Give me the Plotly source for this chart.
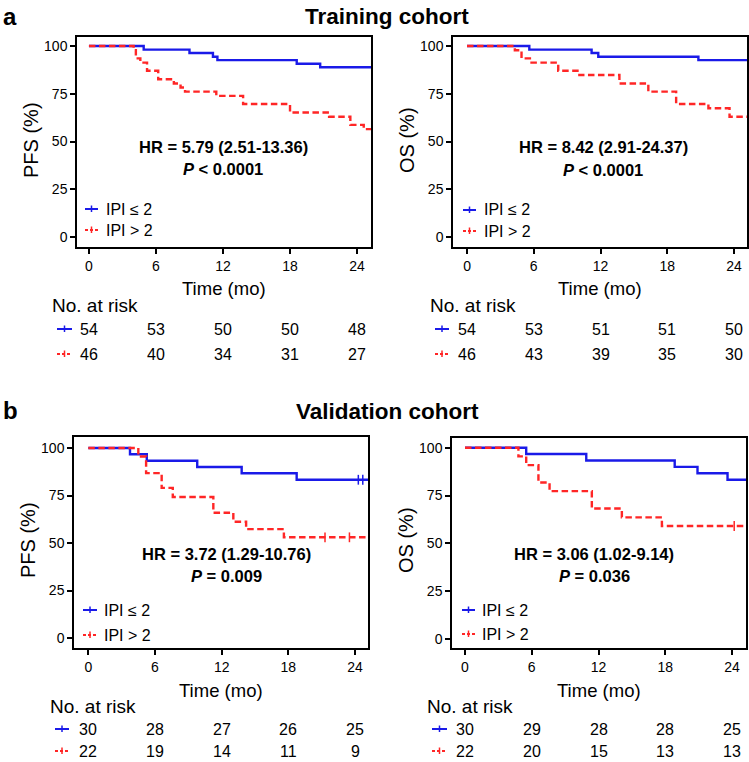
import plotly.graph_objects as go

# ---------------- data ----------------
month_ticks = [0, 6, 12, 18, 24]
surv_ticks = [0, 25, 50, 75, 100]
group_labels = ["IPI ≤ 2", "IPI > 2"]

# Training cohort - PFS
tr_pfs_low_t = [0, 4.9, 9.0, 11.1, 11.5, 18.6, 20.7, 25.4]
tr_pfs_low_s = [100, 98.1, 96.3, 94.4, 92.6, 90.7, 88.9, 88.9]
tr_pfs_high_t = [0, 4.0, 4.2, 4.6, 5.2, 6.2, 7.6, 8.2, 8.6, 11.4, 13.8, 18.0, 21.5, 23.4, 24.6, 25.4]
tr_pfs_high_s = [100, 97.8, 93.5, 91.3, 87.0, 82.6, 80.4, 78.3, 76.1, 73.9, 69.6, 65.2, 63.0, 58.7, 56.5, 56.5]
tr_pfs_low_risk = [54, 53, 50, 50, 48]
tr_pfs_high_risk = [46, 40, 34, 31, 27]

# Training cohort - OS
tr_os_low_t = [0, 5.6, 11.2, 11.8, 20.8, 25.4]
tr_os_low_s = [100, 98.1, 96.3, 94.4, 92.6, 92.6]
tr_os_high_t = [0, 4.3, 4.9, 5.8, 8.2, 10.1, 13.7, 16.3, 18.8, 21.7, 23.6, 25.4]
tr_os_high_s = [100, 97.8, 93.5, 91.3, 87.0, 84.8, 80.4, 76.1, 69.6, 67.4, 63.0, 63.0]
tr_os_low_risk = [54, 53, 51, 51, 50]
tr_os_high_risk = [46, 43, 39, 35, 30]

# Validation cohort - PFS
va_pfs_low_t = [0, 3.75, 5.26, 9.8, 13.8, 18.75, 25.4]
va_pfs_low_s = [100, 96.7, 93.3, 90.0, 86.7, 83.3, 83.3]
va_pfs_low_cens_t = [24.3, 24.7]
va_pfs_low_cens_s = [83.3, 83.3]
va_pfs_high_t = [0, 4.5, 5.2, 6.6, 7.6, 11.25, 13.05, 14.2, 17.6, 25.4]
va_pfs_high_s = [100, 95.5, 86.8, 79.0, 74.2, 65.9, 61.2, 57.3, 53.0, 53.0]
va_pfs_high_cens_t = [21.3, 23.5]
va_pfs_high_cens_s = [53.0, 53.0]
va_pfs_low_risk = [30, 28, 27, 26, 25]
va_pfs_high_risk = [22, 19, 14, 11, 9]

# Validation cohort - OS
va_os_low_t = [0, 5.5, 10.9, 18.85, 20.9, 23.6, 25.4]
va_os_low_s = [100, 96.7, 93.3, 90.0, 86.7, 83.3, 83.3]
va_os_high_t = [0, 4.8, 5.5, 6.6, 7.6, 11.4, 14.1, 17.7, 25.4]
va_os_high_s = [100, 95.5, 90.9, 81.8, 77.3, 68.2, 63.6, 59.1, 59.1]
va_os_high_cens_t = [24.2]
va_os_high_cens_s = [59.1]
va_os_low_risk = [30, 29, 28, 28, 25]
va_os_high_risk = [22, 20, 15, 13, 13]

hr_texts = ["HR = 5.79 (2.51-13.36)", "HR = 8.42 (2.91-24.37)",
            "HR = 3.72 (1.29-10.76)", "HR = 3.06 (1.02-9.14)"]
p_texts = ["<i>P</i> &lt; 0.0001", "<i>P</i> &lt; 0.0001",
           "<i>P</i> = 0.009", "<i>P</i> = 0.036"]
y_titles = ["PFS (%)", "OS (%)", "PFS (%)", "OS (%)"]

# ---------------- style / layout ----------------
W, H = 749, 762
FONT = "Liberation Sans, Arial, Helvetica, sans-serif"
BLUE = "#1a1ae8"
RED = "#ff2626"
RED_DASH = "6.5px,3.5px"


def px(x):
    return x / W


def py(y):
    return 1 - y / H


panels = [
    dict(data=(tr_pfs_low_t, tr_pfs_low_s, tr_pfs_high_t, tr_pfs_high_s, None, None, None, None,
               tr_pfs_low_risk, tr_pfs_high_risk),
         box=(77, 371, 37, 247), xr=[-1.07, 25.25], yr=[-5.2, 104.7],
         ytitle_x=31, ytitle_y=140, hr=(223, 147, 169), leg=(85, 98, 104, 209, 230),
         xtitle_y=288, risk_title=(50, 306), risk_sym=(57, 72), risk_y=(329, 354)),
    dict(data=(tr_os_low_t, tr_os_low_s, tr_os_high_t, tr_os_high_s, None, None, None, None,
               tr_os_low_risk, tr_os_high_risk),
         box=(453, 747, 37, 247), xr=[-1.26, 25.17], yr=[-5.2, 104.7],
         ytitle_x=407, ytitle_y=140, hr=(603, 147, 170), leg=(463, 476, 482, 210, 231),
         xtitle_y=288, risk_title=(428, 306), risk_sym=(435, 449), risk_y=(329, 354)),
    dict(data=(va_pfs_low_t, va_pfs_low_s, va_pfs_high_t, va_pfs_high_s,
               va_pfs_low_cens_t, va_pfs_low_cens_s, va_pfs_high_cens_t, va_pfs_high_cens_s,
               va_pfs_low_risk, va_pfs_high_risk),
         box=(74, 368, 437, 648), xr=[-1.29, 25.17], yr=[-5.26, 105.8],
         ytitle_x=28, ytitle_y=540, hr=(226, 554, 576), leg=(83, 97, 102, 610, 635),
         xtitle_y=690, risk_title=(48, 706), risk_sym=(55, 69), risk_y=(729, 751)),
    dict(data=(va_os_low_t, va_os_low_s, va_os_high_t, va_os_high_s,
               None, None, va_os_high_cens_t, va_os_high_cens_s,
               va_os_low_risk, va_os_high_risk),
         box=(452, 746, 438, 648), xr=[-1.17, 25.26], yr=[-4.7, 105.1],
         ytitle_x=406, ytitle_y=540, hr=(594, 554, 576), leg=(462, 475, 480, 610, 634),
         xtitle_y=690, risk_title=(425, 706), risk_sym=(432, 447), risk_y=(729, 751)),
]

fig = go.Figure()
annotations = []
shapes = []
layout_axes = {}


def sym_shapes(x0, x1, y, color, dashed):
    sh = [dict(type="line", xref="paper", yref="paper", x0=px(x0), x1=px(x1), y0=py(y), y1=py(y),
               line=dict(color=color, width=2, dash="3px,2px" if dashed else "solid"))]
    xm = (x0 + x1) / 2
    sh.append(dict(type="line", xref="paper", yref="paper", x0=px(xm), x1=px(xm), y0=py(y - 3.5),
                   y1=py(y + 3), line=dict(color=color, width=1.5)))
    return sh


for i, p in enumerate(panels):
    n = "" if i == 0 else str(i + 1)
    xa, ya = "x" + n, "y" + n
    (lt, ls, ht, hs, lct, lcs, hct, hcs, lrisk, hrisk) = p["data"]
    x0, x1, y0, y1 = p["box"]

    fig.add_trace(go.Scatter(x=lt, y=ls, mode="lines", xaxis=xa, yaxis=ya,
                             line=dict(shape="hv", color=BLUE, width=2.4),
                             showlegend=False, hoverinfo="skip"))
    fig.add_trace(go.Scatter(x=ht, y=hs, mode="lines", xaxis=xa, yaxis=ya,
                             line=dict(shape="hv", color=RED, width=2.4, dash=RED_DASH),
                             showlegend=False, hoverinfo="skip"))
    if lct:
        fig.add_trace(go.Scatter(x=lct, y=lcs, mode="markers", xaxis=xa, yaxis=ya,
                                 marker=dict(symbol="line-ns", size=7, line=dict(color=BLUE, width=1.5)),
                                 showlegend=False, hoverinfo="skip"))
    if hct:
        fig.add_trace(go.Scatter(x=hct, y=hcs, mode="markers", xaxis=xa, yaxis=ya,
                                 marker=dict(symbol="line-ns", size=7, line=dict(color=RED, width=1.5)),
                                 showlegend=False, hoverinfo="skip"))

    common = dict(showline=True, linecolor="black", linewidth=1.5, mirror=True,
                  ticks="outside", ticklen=5, tickwidth=1.5, tickcolor="black",
                  showgrid=False, zeroline=False, fixedrange=True,
                  tickfont=dict(family=FONT, size=14, color="black"))
    layout_axes["xaxis" + n] = dict(common, domain=[px(x0), px(x1)], range=p["xr"],
                                    tickvals=month_ticks, anchor=ya)
    layout_axes["yaxis" + n] = dict(common, domain=[py(y1), py(y0)], range=p["yr"],
                                    tickvals=surv_ticks, anchor=xa)

    # y-axis title
    annotations.append(dict(text=y_titles[i], xref="paper", yref="paper", x=px(p["ytitle_x"]),
                            y=py(p["ytitle_y"]), textangle=-90, showarrow=False,
                            xanchor="center", yanchor="middle",
                            font=dict(family=FONT, size=20, color="black")))
    # x-axis title
    annotations.append(dict(text="Time (mo)", xref="paper", yref="paper", x=px((x0 + x1) / 2),
                            y=py(p["xtitle_y"]), showarrow=False, xanchor="center", yanchor="middle",
                            font=dict(family=FONT, size=18.5, color="black")))
    # HR and P
    hx, hy1, hy2 = p["hr"]
    annotations.append(dict(text="<b>" + hr_texts[i] + "</b>", xref="paper", yref="paper",
                            x=px(hx), y=py(hy1), showarrow=False, xanchor="center", yanchor="middle",
                            font=dict(family=FONT, size=16.5, color="black")))
    annotations.append(dict(text="<b>" + p_texts[i] + "</b>", xref="paper", yref="paper",
                            x=px(hx), y=py(hy2), showarrow=False, xanchor="center", yanchor="middle",
                            font=dict(family=FONT, size=16.5, color="black")))
    # in-plot legend
    lx0, lx1, ltx, ly1, ly2 = p["leg"]
    shapes += sym_shapes(lx0, lx1, ly1, BLUE, False)
    shapes += sym_shapes(lx0, lx1, ly2, RED, True)
    for lab, yy in zip(group_labels, (ly1, ly2)):
        annotations.append(dict(text=lab, xref="paper", yref="paper", x=px(ltx), y=py(yy),
                                showarrow=False, xanchor="left", yanchor="middle",
                                font=dict(family=FONT, size=16, color="black")))
    # risk table
    rtx, rty = p["risk_title"]
    annotations.append(dict(text="No. at risk", xref="paper", yref="paper", x=px(rtx), y=py(rty),
                            showarrow=False, xanchor="left", yanchor="middle",
                            font=dict(family=FONT, size=19, color="black")))
    sx0, sx1 = p["risk_sym"]
    ry1, ry2 = p["risk_y"]
    shapes += sym_shapes(sx0, sx1, ry1, BLUE, False)
    shapes += sym_shapes(sx0, sx1, ry2, RED, True)
    for row, yy in ((lrisk, ry1), (hrisk, ry2)):
        for t, v in zip(month_ticks, row):
            annotations.append(dict(text=str(v), xref=xa, yref="paper", x=t, y=py(yy),
                                    showarrow=False, xanchor="center", yanchor="middle",
                                    font=dict(family=FONT, size=16, color="black")))

# panel letters and cohort titles
for letter, yy in (("a", 16), ("b", 410)):
    annotations.append(dict(text="<b>" + letter + "</b>", xref="paper", yref="paper", x=px(1),
                            y=py(yy), showarrow=False, xanchor="left", yanchor="middle",
                            font=dict(family=FONT, size=24, color="black")))
for title, yy in (("Training cohort", 16.5), ("Validation cohort", 411)):
    annotations.append(dict(text="<b>" + title + "</b>", xref="paper", yref="paper", x=px(387),
                            y=py(yy), showarrow=False, xanchor="center", yanchor="middle",
                            font=dict(family=FONT, size=22.5, color="black")))

fig.update_layout(
    width=W, height=H, margin=dict(l=0, r=0, t=0, b=0),
    paper_bgcolor="white", plot_bgcolor="white",
    font=dict(family=FONT, color="black"),
    showlegend=False,
    annotations=annotations, shapes=shapes,
    **layout_axes,
)

fig.write_html(
    "out.html",
    config={"displayModeBar": False},
    post_script="document.body.style.margin='0';document.body.style.overflow='hidden';",
)
